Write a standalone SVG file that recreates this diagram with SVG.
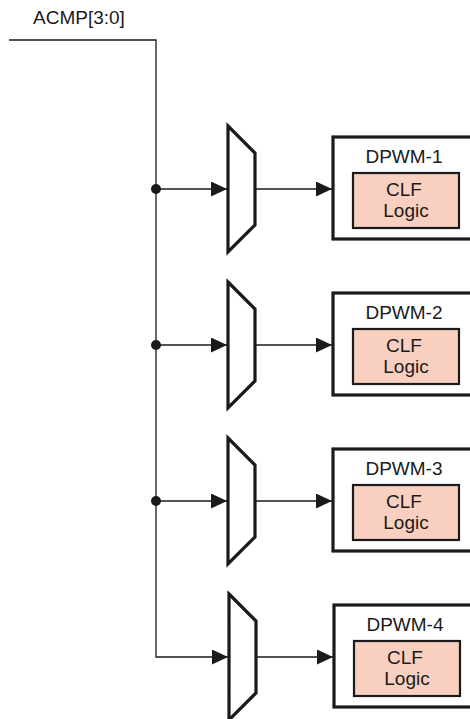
<svg xmlns="http://www.w3.org/2000/svg" width="470" height="719" viewBox="0 0 470 719">
<style>
.w{fill:none;stroke:#1a1a1a;stroke-width:1.3}
.mux{fill:#fff;stroke:#1a1a1a;stroke-width:3.2;stroke-linejoin:miter}
.box{fill:#fff;stroke:#1a1a1a;stroke-width:3.2}
.clf{fill:#F9D0C0;stroke:#1a1a1a;stroke-width:2.2}
text{font-family:"Liberation Sans",Arial,sans-serif;font-size:19px;fill:#1a1a1a}
.c{text-anchor:middle}
</style>
<defs>
<marker id="ah" markerWidth="16" markerHeight="15" refX="16" refY="7.5" orient="auto" markerUnits="userSpaceOnUse">
<path d="M0,0 L16,7.5 L0,15 Z" fill="#1a1a1a"/>
</marker>
</defs>
<text x="33" y="24">ACMP[3:0]</text>
<g id="connectors">
<path class="w" d="M9,40 H156 V657 H228" marker-end="url(#ah)"/>
<path class="w" d="M156,189 H227" marker-end="url(#ah)"/>
<path class="w" d="M156,345 H227" marker-end="url(#ah)"/>
<path class="w" d="M156,501 H227" marker-end="url(#ah)"/>
<path class="w" d="M255,189 H332" marker-end="url(#ah)"/>
<path class="w" d="M255,345 H332" marker-end="url(#ah)"/>
<path class="w" d="M255,501 H332" marker-end="url(#ah)"/>
<path class="w" d="M256,657 H333" marker-end="url(#ah)"/>
<circle cx="156" cy="189" r="5" fill="#1a1a1a"/>
<circle cx="156" cy="345" r="5" fill="#1a1a1a"/>
<circle cx="156" cy="501" r="5" fill="#1a1a1a"/>
</g>
<g id="mux1"><path class="mux" d="M228,126 L255,153 L255,225 L228,252 Z"/></g>
<g id="mux2"><path class="mux" d="M228,282 L255,309 L255,381 L228,408 Z"/></g>
<g id="mux3"><path class="mux" d="M228,438 L255,465 L255,537 L228,564 Z"/></g>
<g id="mux4"><path class="mux" d="M229,594 L256,621 L256,693 L229,720 Z"/></g>
<g id="dpwm1">
<rect class="box" x="333" y="137" width="140" height="102"/>
<rect class="clf" x="353" y="173" width="106" height="55"/>
<text class="c" x="404" y="163">DPWM-1</text>
<text class="c" x="404" y="196">CLF</text>
<text class="c" x="406" y="217">Logic</text>
</g>
<g id="dpwm2">
<rect class="box" x="333" y="293" width="140" height="102"/>
<rect class="clf" x="353" y="329" width="106" height="55"/>
<text class="c" x="404" y="319">DPWM-2</text>
<text class="c" x="404" y="352">CLF</text>
<text class="c" x="406" y="373">Logic</text>
</g>
<g id="dpwm3">
<rect class="box" x="333" y="449" width="140" height="102"/>
<rect class="clf" x="353" y="485" width="106" height="55"/>
<text class="c" x="404" y="475">DPWM-3</text>
<text class="c" x="404" y="508">CLF</text>
<text class="c" x="406" y="529">Logic</text>
</g>
<g id="dpwm4">
<rect class="box" x="334" y="605" width="140" height="102"/>
<rect class="clf" x="354" y="641" width="106" height="55"/>
<text class="c" x="405" y="631">DPWM-4</text>
<text class="c" x="405" y="664">CLF</text>
<text class="c" x="407" y="685">Logic</text>
</g>
</svg>
